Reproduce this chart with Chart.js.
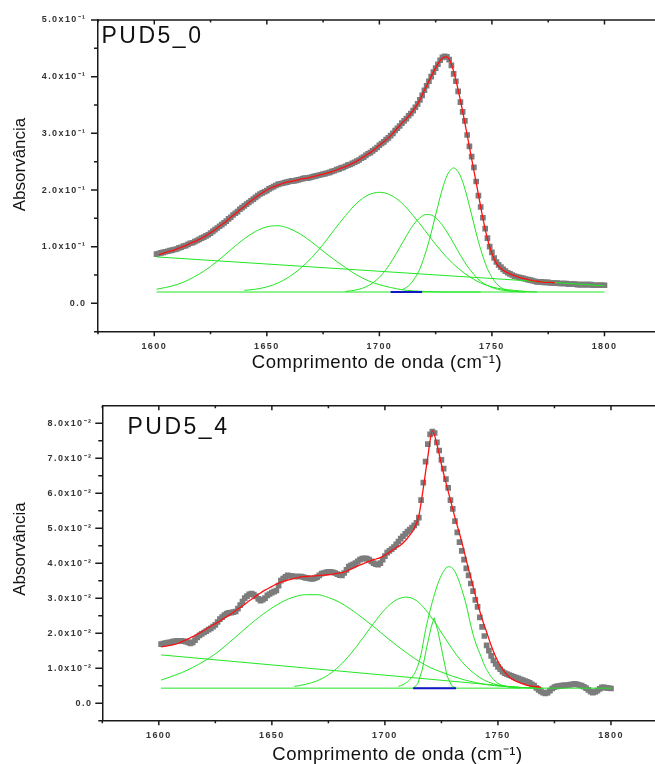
<!DOCTYPE html>
<html>
<head>
<meta charset="utf-8">
<script src="https://cdn.jsdelivr.net/npm/chart.js@4.4.1/dist/chart.umd.min.js"></script>
<style>
  html, body { margin: 0; padding: 0; background: #fff; overflow: hidden; }
  .panel { position: absolute; left: 0; width: 655px; height: 382px; overflow: hidden; }
  .panel canvas { position: absolute; left: 0; top: 0; }
</style>
</head>
<body>
<div class="panel" style="top:0"><canvas id="pud50" width="700" height="382" style="width:700px;height:382px"></canvas></div>
<div class="panel" style="top:382px"><canvas id="pud54" width="700" height="382" style="width:700px;height:382px"></canvas></div>
<script>
// axis ticks
var xMajor = [1600, 1650, 1700, 1750, 1800];
var xMajorLabels = ['1600', '1650', '1700', '1750', '1800'];
var xMinor = [1575, 1625, 1675, 1725, 1775, 1825];

var yMajor0 = [0, 0.1, 0.2, 0.3, 0.4, 0.5];
var yMajorLabels0 = ['0.0', '1.0x10⁻¹', '2.0x10⁻¹', '3.0x10⁻¹', '4.0x10⁻¹', '5.0x10⁻¹'];
var yMinor0 = [-0.05, 0.05, 0.15, 0.25, 0.35, 0.45];

var yMajor4 = [0, 0.01, 0.02, 0.03, 0.04, 0.05, 0.06, 0.07, 0.08];
var yMajorLabels4 = ['0.0', '1.0x10⁻²', '2.0x10⁻²', '3.0x10⁻²', '4.0x10⁻²', '5.0x10⁻²', '6.0x10⁻²', '7.0x10⁻²', '8.0x10⁻²'];
var yMinor4 = [-0.005, 0.005, 0.015, 0.025, 0.035, 0.045, 0.055, 0.065, 0.075];

// ---------- PUD5_0 ----------
// measured spectrum, 1 cm-1 steps from 1601
var specStart0 = 1601;
var spec0 = [
  0.087, 0.088, 0.089, 0.090, 0.091, 0.092, 0.093, 0.094, 0.095, 0.096,
  0.098, 0.099, 0.101, 0.102, 0.104, 0.106, 0.107, 0.109, 0.111, 0.113,
  0.115, 0.117, 0.119, 0.121, 0.124, 0.127, 0.130, 0.133, 0.136, 0.139,
  0.142, 0.145, 0.149, 0.152, 0.156, 0.159, 0.162, 0.166, 0.169, 0.172,
  0.175, 0.178, 0.181, 0.184, 0.187, 0.190, 0.193, 0.195, 0.197, 0.199,
  0.202, 0.204, 0.206, 0.208, 0.210, 0.211, 0.212, 0.213, 0.214, 0.215,
  0.216, 0.216, 0.217, 0.218, 0.219, 0.220, 0.221, 0.221, 0.222, 0.223,
  0.224, 0.225, 0.226, 0.227, 0.228, 0.229, 0.230, 0.231, 0.233, 0.234,
  0.236, 0.237, 0.239, 0.240, 0.242, 0.244, 0.245, 0.247, 0.249, 0.251,
  0.253, 0.256, 0.258, 0.261, 0.264, 0.266, 0.269, 0.272, 0.275, 0.279,
  0.282, 0.285, 0.289, 0.292, 0.296, 0.300, 0.305, 0.309, 0.313, 0.318,
  0.322, 0.326, 0.331, 0.335, 0.340, 0.346, 0.352, 0.359, 0.367, 0.376,
  0.384, 0.392, 0.400, 0.408, 0.415, 0.422, 0.429, 0.434, 0.436, 0.435,
  0.430, 0.420, 0.405, 0.392, 0.374, 0.355, 0.338, 0.322, 0.297, 0.277,
  0.259, 0.240, 0.215, 0.190, 0.170, 0.151, 0.132, 0.115, 0.100, 0.090,
  0.080, 0.073, 0.068, 0.064, 0.060, 0.057, 0.054, 0.052, 0.050, 0.048,
  0.047, 0.046, 0.045, 0.044, 0.043, 0.042, 0.041, 0.040, 0.039, 0.038,
  0.038, 0.038, 0.037, 0.037, 0.037, 0.036, 0.036, 0.036, 0.036, 0.035,
  0.035, 0.035, 0.035, 0.034, 0.034, 0.034, 0.034, 0.033, 0.033, 0.033,
  0.033, 0.033, 0.033, 0.033, 0.032, 0.032, 0.032, 0.032, 0.032, 0.032
];
// cumulative fit, 2 cm-1 steps from 1602
var fitStart0 = 1602;
var fit0 = [
  0.086, 0.088, 0.091, 0.093, 0.096, 0.099, 0.102, 0.106, 0.109, 0.113,
  0.117, 0.122, 0.127, 0.133, 0.139, 0.145, 0.152, 0.158, 0.165, 0.171,
  0.178, 0.184, 0.190, 0.195, 0.200, 0.204, 0.207, 0.210, 0.213, 0.215,
  0.216, 0.218, 0.220, 0.221, 0.223, 0.225, 0.227, 0.229, 0.231, 0.234,
  0.237, 0.240, 0.243, 0.247, 0.251, 0.256, 0.261, 0.266, 0.272, 0.279,
  0.285, 0.292, 0.300, 0.309, 0.318, 0.326, 0.335, 0.346, 0.359, 0.376,
  0.392, 0.408, 0.422, 0.433, 0.435, 0.422, 0.394, 0.358, 0.318, 0.276,
  0.234, 0.192, 0.150, 0.114, 0.088, 0.071, 0.062, 0.056, 0.052, 0.049,
  0.046, 0.044, 0.042, 0.040, 0.039, 0.038, 0.037, 0.037, 0.036
];
// fitted bands
var bandAWave0 = [1601, 1605, 1610, 1615, 1620, 1625, 1630, 1635, 1640, 1645, 1650, 1655, 1660, 1665, 1670, 1675, 1680, 1685, 1690, 1695, 1700, 1705, 1710, 1715, 1720, 1730, 1745];
var bandA0 = [0.025, 0.028, 0.033, 0.041, 0.052, 0.065, 0.081, 0.098, 0.114, 0.127, 0.135, 0.137, 0.132, 0.122, 0.108, 0.092, 0.077, 0.063, 0.050, 0.040, 0.033, 0.028, 0.024, 0.022, 0.021, 0.020, 0.020];
var bandBWave0 = [1640, 1645, 1650, 1655, 1660, 1665, 1670, 1675, 1680, 1685, 1690, 1695, 1700, 1705, 1710, 1715, 1720, 1725, 1730, 1735, 1740, 1745, 1750, 1755, 1760, 1765, 1770];
var bandB0 = [0.023, 0.025, 0.029, 0.036, 0.047, 0.062, 0.081, 0.104, 0.130, 0.155, 0.177, 0.191, 0.196, 0.191, 0.177, 0.155, 0.130, 0.104, 0.081, 0.062, 0.047, 0.036, 0.029, 0.025, 0.023, 0.021, 0.020];
var bandCWave0 = [1685, 1690, 1695, 1700, 1703, 1706, 1709, 1712, 1715, 1718, 1721, 1724, 1727, 1730, 1733, 1736, 1739, 1742, 1745, 1750, 1755, 1760];
var bandC0 = [0.021, 0.024, 0.031, 0.046, 0.060, 0.078, 0.098, 0.119, 0.138, 0.151, 0.157, 0.154, 0.143, 0.126, 0.106, 0.085, 0.066, 0.051, 0.039, 0.028, 0.023, 0.021];
var bandDWave0 = [1710, 1712, 1714, 1716, 1718, 1720, 1722, 1724, 1726, 1728, 1730, 1732, 1733, 1734, 1736, 1738, 1740, 1742, 1744, 1746, 1748, 1750, 1752, 1754, 1756, 1760, 1765];
var bandD0 = [0.024, 0.028, 0.035, 0.046, 0.061, 0.083, 0.109, 0.140, 0.172, 0.202, 0.225, 0.237, 0.239, 0.237, 0.225, 0.202, 0.172, 0.140, 0.109, 0.083, 0.061, 0.046, 0.035, 0.028, 0.024, 0.021, 0.020];
var slopeWave0 = [1601, 1800];
var slope0 = [0.082, 0.031];
var flatWave0 = [1601, 1800];
var flat0 = [0.020, 0.020];
var blueWave0 = [1705, 1719];
var blue0 = [0.020, 0.020];

// ---------- PUD5_4 ----------
var specStart4 = 1601;
var spec4 = [
  0.0169, 0.0170, 0.0172, 0.0173, 0.0174, 0.0176, 0.0177, 0.0178, 0.0178, 0.0178,
  0.0177, 0.0176, 0.0174, 0.0171, 0.0174, 0.0180, 0.0188, 0.0194, 0.0198, 0.0202,
  0.0206, 0.0210, 0.0214, 0.0219, 0.0224, 0.0232, 0.0240, 0.0246, 0.0252, 0.0256,
  0.0258, 0.0259, 0.0260, 0.0262, 0.0270, 0.0280, 0.0290, 0.0300, 0.0306, 0.0311,
  0.0313, 0.0310, 0.0305, 0.0298, 0.0293, 0.0296, 0.0300, 0.0308, 0.0312, 0.0316,
  0.0319, 0.0322, 0.0336, 0.0350, 0.0356, 0.0361, 0.0365, 0.0364, 0.0363, 0.0362,
  0.0362, 0.0362, 0.0362, 0.0360, 0.0358, 0.0357, 0.0356, 0.0355, 0.0357, 0.0360,
  0.0365, 0.0370, 0.0372, 0.0374, 0.0375, 0.0375, 0.0374, 0.0372, 0.0369, 0.0366,
  0.0365, 0.0372, 0.0381, 0.0390, 0.0394, 0.0397, 0.0400, 0.0405, 0.0410, 0.0413,
  0.0414, 0.0413, 0.0410, 0.0405, 0.0400, 0.0397, 0.0396, 0.0400, 0.0410, 0.0420,
  0.0430, 0.0435, 0.0440, 0.0446, 0.0454, 0.0462, 0.0470, 0.0477, 0.0484, 0.0490,
  0.0496, 0.0502, 0.0508, 0.0515, 0.0530, 0.0580, 0.0630, 0.0690, 0.0740, 0.0768,
  0.0776, 0.0772, 0.0745, 0.0722, 0.0695, 0.0670, 0.0640, 0.0615, 0.0580, 0.0555,
  0.0520, 0.0488, 0.0460, 0.0435, 0.0410, 0.0385, 0.0365, 0.0342, 0.0320, 0.0295,
  0.0275, 0.0245, 0.0218, 0.0192, 0.0165, 0.0150, 0.0135, 0.0122, 0.0112, 0.0104,
  0.0097, 0.0090, 0.0086, 0.0083, 0.0080, 0.0078, 0.0075, 0.0073, 0.0071, 0.0068,
  0.0066, 0.0063, 0.0061, 0.0058, 0.0054, 0.0050, 0.0044, 0.0038, 0.0034, 0.0030,
  0.0028, 0.0030, 0.0036, 0.0042, 0.0046, 0.0048, 0.0049, 0.0050, 0.0051, 0.0051,
  0.0052, 0.0053, 0.0054, 0.0055, 0.0054, 0.0052, 0.0050, 0.0047, 0.0043, 0.0038,
  0.0033, 0.0030, 0.0032, 0.0036, 0.0041, 0.0045, 0.0045, 0.0044, 0.0043, 0.0042
];
var fitStart4 = 1601;
var fit4 = [
  0.0161, 0.0163, 0.0165, 0.0168, 0.0172, 0.0178, 0.0184, 0.0190, 0.0197, 0.0204,
  0.0212, 0.0220, 0.0227, 0.0235, 0.0243, 0.0251, 0.0260, 0.0269, 0.0278, 0.0288,
  0.0297, 0.0306, 0.0315, 0.0323, 0.0330, 0.0337, 0.0343, 0.0348, 0.0352, 0.0355,
  0.0358, 0.0361, 0.0362, 0.0363, 0.0364, 0.0365, 0.0366, 0.0367, 0.0369, 0.0371,
  0.0373, 0.0377, 0.0383, 0.0389, 0.0395, 0.0400, 0.0405, 0.0410, 0.0414, 0.0419,
  0.0427, 0.0436, 0.0444, 0.0452, 0.0464, 0.0480, 0.0500, 0.0535, 0.0615, 0.0705,
  0.0778, 0.0740, 0.0682, 0.0630, 0.0580, 0.0530, 0.0485, 0.0435, 0.0383, 0.0333,
  0.0285, 0.0241, 0.0203, 0.0165, 0.0133, 0.0108, 0.0089, 0.0075, 0.0066, 0.0060,
  0.0055, 0.0051, 0.0049, 0.0047, 0.0046
];
var bandAWave4 = [1601, 1605, 1610, 1615, 1620, 1625, 1630, 1635, 1640, 1645, 1650, 1655, 1660, 1665, 1670, 1675, 1680, 1685, 1690, 1695, 1700, 1705, 1710, 1715, 1720, 1725, 1730, 1735, 1740, 1745, 1750, 1755, 1760, 1770];
var bandA4 = [0.0066, 0.0075, 0.0087, 0.0102, 0.0120, 0.0141, 0.0167, 0.0195, 0.0223, 0.0249, 0.0272, 0.0291, 0.0304, 0.0310, 0.0310, 0.0302, 0.0288, 0.0268, 0.0244, 0.0219, 0.0192, 0.0166, 0.0142, 0.0120, 0.0102, 0.0089, 0.0077, 0.0067, 0.0059, 0.0053, 0.0049, 0.0047, 0.0045, 0.0043];
var bandBWave4 = [1660, 1665, 1670, 1675, 1680, 1685, 1690, 1695, 1700, 1705, 1709.5, 1714, 1718, 1722, 1726, 1730, 1734, 1738, 1742, 1746, 1750, 1755, 1760, 1765];
var bandB4 = [0.0048, 0.0054, 0.0064, 0.0081, 0.0107, 0.0142, 0.0184, 0.0228, 0.0268, 0.0295, 0.0303, 0.0293, 0.0267, 0.0232, 0.0192, 0.0153, 0.0119, 0.0093, 0.0073, 0.0060, 0.0052, 0.0047, 0.0045, 0.0043];
var bandCWave4 = [1712.5, 1714.5, 1716.5, 1718.5, 1720.5, 1721.8, 1723.5, 1725.5, 1727.5, 1729.5, 1731.5];
var bandC4 = [0.0043, 0.0055, 0.0095, 0.0160, 0.0218, 0.0244, 0.0205, 0.0141, 0.0078, 0.0050, 0.0043];
var bandDWave4 = [1706, 1708, 1710, 1712, 1714, 1716, 1718, 1720, 1722, 1724, 1726, 1728, 1730, 1732, 1734, 1736, 1738, 1740, 1742, 1744, 1746, 1748, 1750, 1754, 1760];
var bandD4 = [0.0048, 0.0053, 0.0061, 0.0075, 0.0097, 0.0140, 0.0210, 0.0265, 0.0313, 0.0351, 0.0377, 0.0390, 0.0385, 0.0362, 0.0325, 0.0280, 0.0222, 0.0175, 0.0142, 0.0109, 0.0085, 0.0068, 0.0057, 0.0047, 0.0043];
var slopeWave4 = [1601, 1760];
var slope4 = [0.0138, 0.0045];
var flatWave4 = [1601, 1800];
var flat4 = [0.0043, 0.0043];
var blueWave4 = [1712.5, 1731.5];
var blue4 = [0.0043, 0.0043];

var FONT = "'Liberation Sans', Arial, sans-serif";

function sampled(start, step, values) {
  return values.map(function (v, i) { return { x: start + i * step, y: v }; });
}
function paired(xs, ys) {
  return xs.map(function (x, i) { return { x: x, y: ys[i] }; });
}

function dataPoints(points) {
  return {
    data: points, showLine: false, pointStyle: 'rect', pointRadius: 4,
    pointBackgroundColor: '#7c7c7c', pointBorderWidth: 0, order: 4
  };
}
function curve(points, color, width, order, straight) {
  return {
    data: points, borderColor: color, borderWidth: width, pointRadius: 0,
    cubicInterpolationMode: straight ? 'default' : 'monotone', tension: 0, order: order
  };
}
function band(points, straight) { return curve(points, '#22e622', 1, 2, straight); }

// frame: top border, tick marks, panel name and axis titles
var framePlugin = {
  id: 'frame',
  beforeDraw: function (chart) { chart.ctx.letterSpacing = '1.4px'; },
  afterDraw: function (chart, args, o) {
    var ctx = chart.ctx, a = chart.chartArea, xs = chart.scales.x, ys = chart.scales.y;
    ctx.save();
    ctx.strokeStyle = '#1a1a1a';
    ctx.lineWidth = 1.5;
    ctx.beginPath();
    ctx.moveTo(a.left, a.top);
    ctx.lineTo(a.right, a.top);
    xs.ticks.forEach(function (t) {
      var px = xs.getPixelForValue(t.value);
      var len = xMajor.indexOf(t.value) >= 0 ? 4.5 : 2.5;
      ctx.moveTo(px, a.bottom); ctx.lineTo(px, a.bottom + len);
      ctx.moveTo(px, a.top); ctx.lineTo(px, a.top + len);
    });
    ys.ticks.forEach(function (t) {
      var py = ys.getPixelForValue(t.value);
      var len = o.yMajor.indexOf(t.value) >= 0 ? 7 : 4;
      ctx.moveTo(a.left, py); ctx.lineTo(a.left - len, py);
    });
    ctx.stroke();

    ctx.fillStyle = '#111';
    ctx.letterSpacing = '2.5px';
    ctx.font = '23px ' + FONT;
    ctx.textAlign = 'left';
    ctx.textBaseline = 'alphabetic';
    ctx.fillText(o.name, o.nameX, o.nameY);

    ctx.letterSpacing = '0.5px';
    ctx.font = '18.5px ' + FONT;
    ctx.textAlign = 'center';
    ctx.fillText('Comprimento de onda (cm⁻¹)', o.xTitleX, o.xTitleY);

    ctx.letterSpacing = '0px';
    ctx.font = '17px ' + FONT;
    ctx.translate(o.yTitleX, o.yTitleY);
    ctx.rotate(-Math.PI / 2);
    ctx.textBaseline = 'middle';
    ctx.fillText('Absorvância', 0, 0);
    ctx.restore();
  }
};

function makePanel(id, p) {
  var tickFont = { family: FONT, size: 9, weight: 'bold' };
  var xTicks = xMajor.concat(xMinor).sort(function (a, b) { return a - b; });
  var yTicks = p.yMajor.concat(p.yMinor).sort(function (a, b) { return a - b; });
  return new Chart(document.getElementById(id), {
    type: 'line',
    data: { datasets: p.datasets },
    options: {
      responsive: false,
      animation: false,
      events: [],
      layout: { padding: { left: 0, top: p.top, right: 700 - p.right, bottom: 0 } },
      plugins: {
        legend: { display: false },
        tooltip: { enabled: false },
        frame: p.frame
      },
      scales: {
        x: {
          type: 'linear', min: 1575, max: 1825,
          afterBuildTicks: function (s) { s.ticks = xTicks.map(function (v) { return { value: v }; }); },
          afterFit: function (s) { s.height = 382 - p.bottom; },
          grid: { display: false, drawTicks: false },
          border: { display: true, color: '#1a1a1a', width: 1.5 },
          ticks: {
            autoSkip: false, maxRotation: 0, padding: 9, color: '#333', font: tickFont,
            callback: function (v) { var i = xMajor.indexOf(v); return i >= 0 ? xMajorLabels[i] : ''; }
          }
        },
        y: {
          type: 'linear', min: p.yMin, max: p.yMax,
          afterBuildTicks: function (s) { s.ticks = yTicks.map(function (v) { return { value: v }; }); },
          afterFit: function (s) { s.width = p.left; },
          grid: { display: false, drawTicks: false },
          border: { display: true, color: '#1a1a1a', width: 1.5 },
          ticks: {
            autoSkip: false, padding: p.yPad, color: '#333', font: tickFont,
            callback: function (v) { var i = p.yMajor.indexOf(v); return i >= 0 ? p.yLabels[i] : ''; }
          }
        }
      }
    },
    plugins: [framePlugin]
  });
}

makePanel('pud50', {
  left: 98, right: 660.75, top: 20, bottom: 331.7,
  yMin: -0.05, yMax: 0.5, yMajor: yMajor0, yMinor: yMinor0, yLabels: yMajorLabels0, yPad: 11.5,
  frame: { name: 'PUD5_0', nameX: 101.5, nameY: 42.5, xTitleX: 377, xTitleY: 368, yTitleX: 20, yTitleY: 164.5, yMajor: yMajor0 },
  datasets: [
    dataPoints(sampled(specStart0, 1, spec0)),
    band(paired(slopeWave0, slope0), true),
    band(paired(flatWave0, flat0), true),
    band(paired(bandAWave0, bandA0)),
    band(paired(bandBWave0, bandB0)),
    band(paired(bandCWave0, bandC0)),
    band(paired(bandDWave0, bandD0)),
    curve(paired(blueWave0, blue0), '#1515c8', 2, 1, true),
    curve(sampled(fitStart0, 2, fit0), '#ff1010', 1.3, 0)
  ]
});

makePanel('pud54', {
  left: 102.3, right: 667.5, top: 23.7, bottom: 338.7,
  yMin: -0.005, yMax: 0.085, yMajor: yMajor4, yMinor: yMinor4, yLabels: yMajorLabels4, yPad: 10,
  frame: { name: 'PUD5_4', nameX: 127.5, nameY: 52.3, xTitleX: 397.5, xTitleY: 378, yTitleX: 20.5, yTitleY: 167, yMajor: yMajor4 },
  datasets: [
    dataPoints(sampled(specStart4, 1, spec4)),
    band(paired(slopeWave4, slope4), true),
    band(paired(flatWave4, flat4), true),
    band(paired(bandAWave4, bandA4)),
    band(paired(bandBWave4, bandB4)),
    band(paired(bandCWave4, bandC4), true),
    band(paired(bandDWave4, bandD4)),
    curve(paired(blueWave4, blue4), '#1515c8', 2, 1, true),
    curve(sampled(fitStart4, 2, fit4), '#ff1010', 1.3, 0)
  ]
});
</script>
</body>
</html>
